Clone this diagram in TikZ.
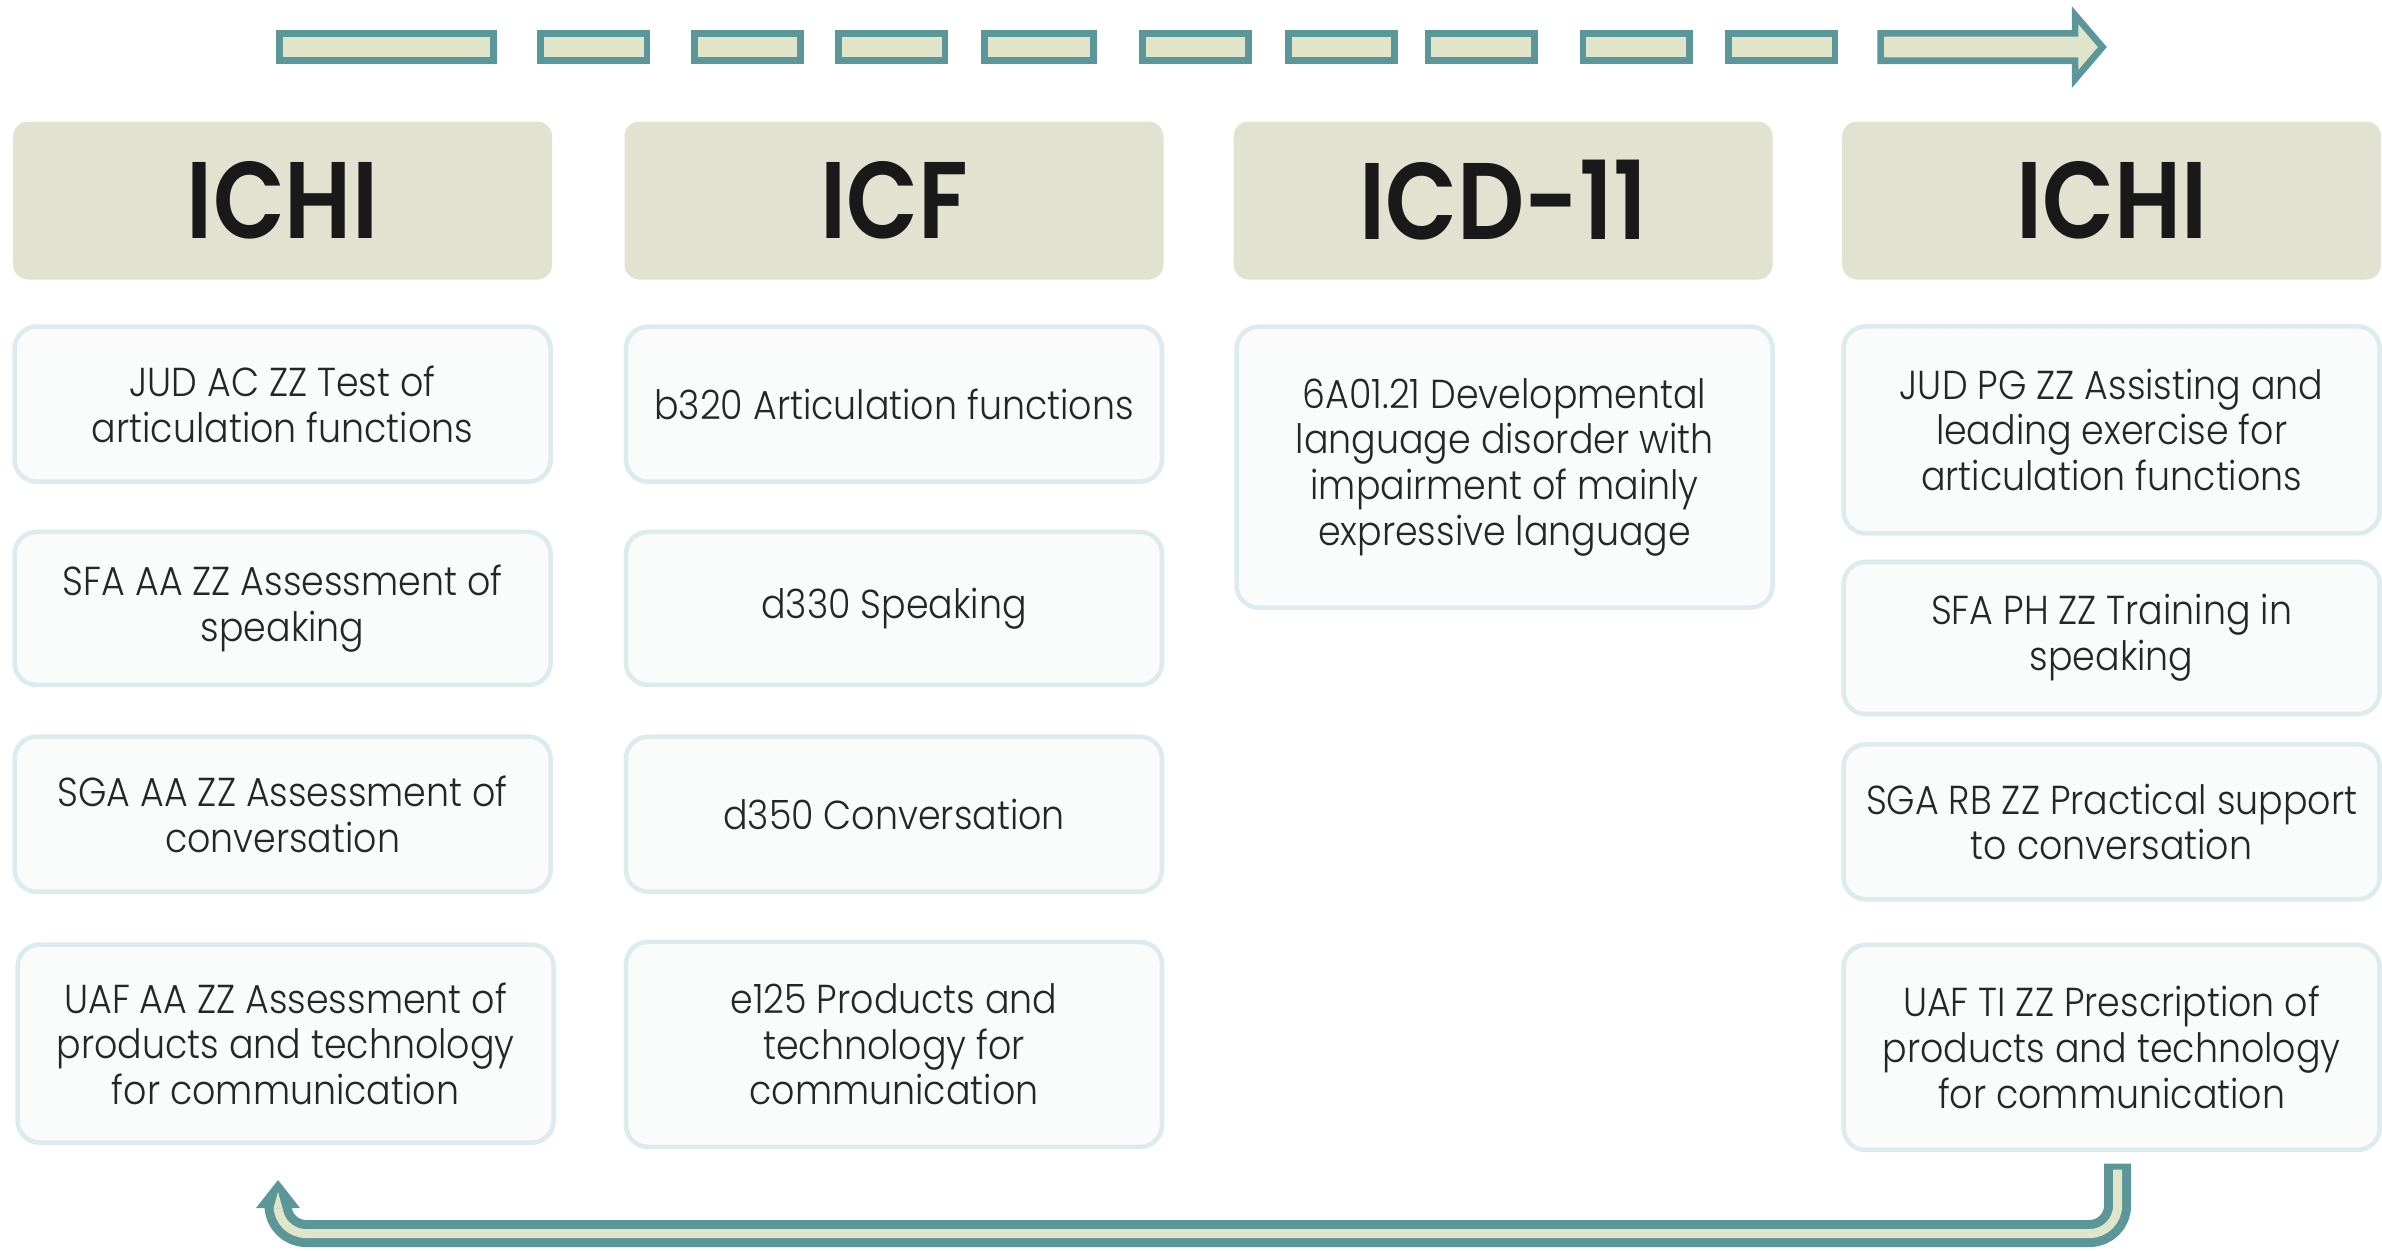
\documentclass[tikz,border=0pt]{standalone}
\usepackage{fontspec}
\setmainfont{Poppins}
\newfontfamily\entryfont{Poppins}[UprightFont=* Light, FakeStretch=0.9]
\newfontfamily\headfont{Poppins}[UprightFont=* SemiBold, FakeStretch=0.86]
\usetikzlibrary{positioning}

\definecolor{headfill}{HTML}{E1E2CF}
\definecolor{boxline}{HTML}{DCEBEE}
\definecolor{boxfill}{HTML}{FAFCFC}
\definecolor{arrteal}{HTML}{5B9698}
\definecolor{arrcream}{HTML}{E0E5C9}

\tikzset{
  header/.style={fill=headfill, rounded corners=0.15cm, minimum width=5.39cm,
    minimum height=1.58cm, inner sep=0pt, text=black!90,
    font=\headfont\fontsize{31}{31}\selectfont},
  entry/.style={draw=boxline, line width=1.3pt, fill=boxfill, rounded corners=0.22cm,
    minimum width=5.36cm, inner sep=0pt, align=center, text=black!85,
    font=\entryfont\fontsize{11.5}{13}\selectfont},
  dashbox/.style={draw=arrteal, fill=arrcream, line width=1.9pt},
  bandout/.style={draw=arrteal, line width=0.27cm, rounded corners=0.28cm},
  bandin/.style={draw=arrcream, line width=0.09cm, rounded corners=0.28cm}
}

\begin{document}
\begin{tikzpicture}
\useasboundingbox (0,0) rectangle (23.82,-12.502);

\node[header] (hichiA) at (2.826,-2.005) {ICHI};
\node[header] (hicf) at (8.940,-2.005) {ICF};
\node[header] (hicd) at (15.031,-2.005) {ICD-11};
\node[header] (hichiB) at (21.116,-2.005) {ICHI};

\node[entry, minimum height=1.55cm] (jud) at (2.826,-4.041) {JUD AC ZZ Test of\\articulation functions};
\node[entry, minimum height=1.53cm] (sfa) at (2.826,-6.084) {SFA AA ZZ Assessment of\\speaking};
\node[entry, minimum height=1.55cm] (sga) at (2.826,-8.142) {SGA AA ZZ Assessment of\\conversation};
\node[entry, minimum height=1.98cm] (uaf) at (2.856,-10.436) {UAF AA ZZ Assessment of\\products and technology\\for communication};

\node[entry, minimum height=1.55cm] (b320) at (8.940,-4.041) {b320 Articulation functions};
\node[entry, minimum height=1.53cm] (d330) at (8.940,-6.084) {d330 Speaking};
\node[entry, minimum height=1.55cm] (d350) at (8.940,-8.142) {d350 Conversation};
\node[entry, minimum height=2.05cm] (e125) at (8.940,-10.444) {e125 Products and\\technology for\\communication};

\node[entry, minimum height=2.81cm] (dld) at (15.046,-4.671) {6A01.21 Developmental\\language disorder with\\impairment of mainly\\expressive language};

\node[entry, minimum height=2.07cm] (judpg) at (21.116,-4.299) {JUD PG ZZ Assisting and\\leading exercise for\\articulation functions};
\node[entry, minimum height=1.52cm] (sfaph) at (21.116,-6.380) {SFA PH ZZ Training in\\speaking};
\node[entry, minimum height=1.55cm] (sgarb) at (21.116,-8.218) {SGA RB ZZ Practical support\\to conversation};
\node[entry, minimum height=2.05cm] (uafti) at (21.116,-10.474) {UAF TI ZZ Prescription of\\products and technology\\for communication};

\draw[dashbox] (2.795,-0.334) rectangle (4.937,-0.608);
\draw[dashbox] (5.408,-0.334) rectangle (6.471,-0.608);
\draw[dashbox] (6.942,-0.334) rectangle (8.006,-0.608);
\draw[dashbox] (8.385,-0.334) rectangle (9.449,-0.608);
\draw[dashbox] (9.844,-0.334) rectangle (10.938,-0.608);
\draw[dashbox] (11.424,-0.334) rectangle (12.487,-0.608);
\draw[dashbox] (12.882,-0.334) rectangle (13.945,-0.608);
\draw[dashbox] (14.280,-0.334) rectangle (15.343,-0.608);
\draw[dashbox] (15.829,-0.334) rectangle (16.892,-0.608);
\draw[dashbox] (17.287,-0.334) rectangle (18.351,-0.608);
\draw[dashbox] (18.806,-0.334) -- (20.751,-0.334) -- (20.751,-0.152) -- (21.024,-0.471)
  -- (20.751,-0.790) -- (20.751,-0.608) -- (18.806,-0.608) -- cycle;

\coordinate (backR) at (21.176,-11.636);
\coordinate (backL) at (2.780,-12.080);
\coordinate (tipL) at (2.780,-11.800);
\draw[bandout] (backR) -- (backR |- 0,-12.335) -- (backL |- 0,-12.335) -- (backL);
\draw[bandin] ([yshift=-0.06cm]backR) -- (backR |- 0,-12.335) -- (backL |- 0,-12.335) -- ([yshift=0.06cm]backL);
\fill[arrteal] ([xshift=-0.22cm]backL) -- (tipL) -- ([xshift=0.22cm]backL) -- cycle;
\fill[arrcream] ([xshift=-0.045cm]backL) -- ([yshift=-0.12cm]tipL) -- ([xshift=0.045cm]backL) -- cycle;
\end{tikzpicture}
\end{document}
